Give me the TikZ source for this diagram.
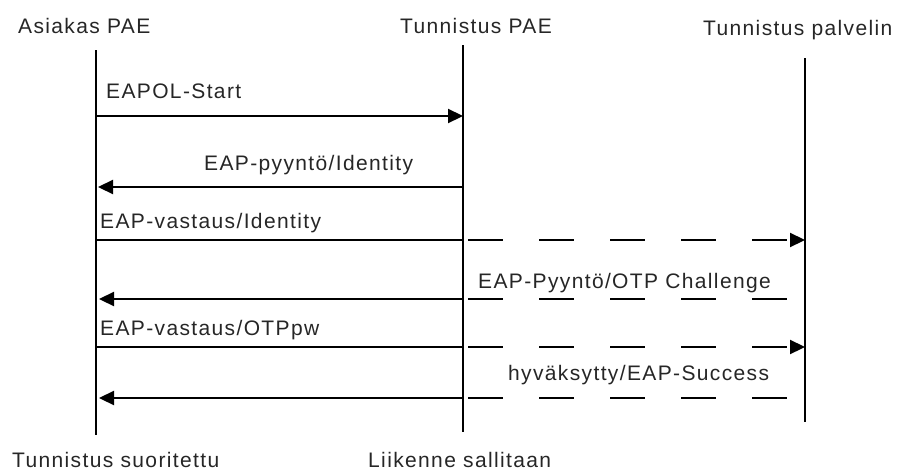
\documentclass[tikz,border=0pt]{standalone}
\usepackage{fontspec}
\setmainfont{Liberation Sans}[LetterSpace=6.5]
\usetikzlibrary{arrows.meta}
\begin{document}
\begin{tikzpicture}[x=1pt,y=-1pt,
  lifeline/.style={line width=2.2pt,line cap=butt},
  msg/.style={line width=2.2pt},
  dashmsg/.style={msg,dash pattern=on 35pt off 36pt,dash phase=66pt},
  tip/.style={-{Triangle[length=15pt,width=14pt]}},
  lbl/.style={anchor=base west,inner sep=0pt,text=black!85,
    font=\fontsize{21pt}{24pt}\selectfont}]
\useasboundingbox (0,0) rectangle (908,474);

% lifeline end points
\coordinate (c1t) at (96,50);  \coordinate (c1b) at (96,435);
\coordinate (c2t) at (463,45); \coordinate (c2b) at (463,432);
\coordinate (c3t) at (805,58); \coordinate (c3b) at (805,422);

% message rows
\coordinate (r1) at (0,116);
\coordinate (r2) at (0,187);
\coordinate (r3) at (0,240);
\coordinate (r4) at (0,299);
\coordinate (r5) at (0,347);
\coordinate (r6) at (0,398);

% lifelines
\draw[lifeline] (c1t) -- (c1b);
\draw[lifeline] (c2t) -- (c2b);
\draw[lifeline] (c3t) -- (c3b);

% participants and final states
\node[lbl] (hA) at (18,33) {Asiakas PAE};
\node[lbl] (hB) at (400,33) {Tunnistus PAE};
\node[lbl] (hC) at (703,35) {Tunnistus palvelin};
\node[lbl] (fA) at (12,467) {Tunnistus suoritettu};
\node[lbl] (fB) at (368,467) {Liikenne sallitaan};

% message labels
\node[lbl] (m1) at (106,98)  {EAPOL-Start};
\node[lbl] (m2) at (204,170) {EAP-pyyntö/Identity};
\node[lbl] (m3) at (100,228) {EAP-vastaus/Identity};
\node[lbl] (m4) at (478,288) {EAP-Pyyntö/OTP Challenge};
\node[lbl] (m5) at (100,335) {EAP-vastaus/OTPpw};
\node[lbl] (m6) at (508,380) {hyväksytty/EAP-Success};

% messages
\draw[msg,tip] (c1t |- r1) -- (c2t |- r1);
\draw[msg,tip,shorten >=-1pt] (c2t |- r2) -- ([xshift=3pt]c1t |- r2);
\draw[msg] (c1t |- r3) -- (c2t |- r3);
\draw[dashmsg,tip] (c2t |- r3) -- (c3t |- r3);
\draw[dashmsg] (c2t |- r4) -- (c3t |- r4);
\draw[msg,tip] (c2t |- r4) -- ([xshift=3pt]c1t |- r4);
\draw[msg] (c1t |- r5) -- (c2t |- r5);
\draw[dashmsg,tip] (c2t |- r5) -- (c3t |- r5);
\draw[dashmsg] (c2t |- r6) -- (c3t |- r6);
\draw[msg,tip] (c2t |- r6) -- ([xshift=3pt]c1t |- r6);
\end{tikzpicture}
\end{document}
